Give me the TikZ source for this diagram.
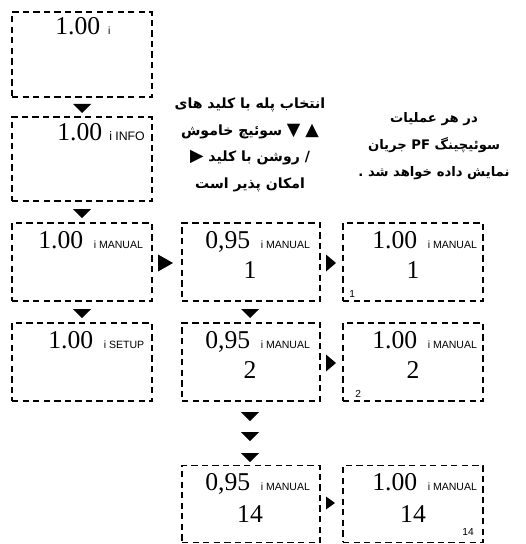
\documentclass[tikz,border=0pt]{standalone}
\usepackage{fontspec}
\setmainfont{Liberation Serif}
\newfontfamily\tagfont{Liberation Sans}
\newfontfamily\farsifont[Script=Arabic]{DejaVu Sans}
\TeXXeTstate=1
\usetikzlibrary{positioning}

\tikzset{
  dispbox/.style={draw, line width=0.8pt, dash pattern=on 3.6pt off 2.4pt,
                  minimum width=2.8cm, inner sep=0pt},
  bignum/.style={font=\fontsize{14.6}{16}\selectfont, inner sep=0pt},
  cornernum/.style={font=\tagfont\fontsize{5.8}{7}\selectfont, inner sep=0pt},
  note/.style={font=\farsifont\bfseries\fontsize{8}{15.2}\selectfont,
               align=center, inner sep=0pt},
  downtri/.pic={\fill (-9,0) -- (9,0) -- (0,9) -- cycle;},
  righttri/.pic={\fill (0,-8.5) -- (0,8.5) -- (15,0) -- cycle;},
  midtri/.pic={\fill (0,-8.5) -- (0,8.5) -- (10,0) -- cycle;},
  smalltri/.pic={\fill (0,-6.5) -- (0,6.5) -- (9,0) -- cycle;}
}
\newcommand{\tagtxt}[2][6pt]{\hspace{#1}{\tagfont\fontsize{6}{7}\selectfont #2}}
\newcommand{\keysym}[1]{{\fontsize{10}{10}\selectfont #1}}

\begin{document}
\begin{tikzpicture}[x=0.02cm,y=-0.02cm]
  \useasboundingbox (0,0) rectangle (525,544);

  % display boxes
  \node[dispbox, minimum height=1.7cm]  (b11) at (82,54.5)  {};
  \node[dispbox, minimum height=1.68cm] (b21) at (82,159)   {};
  \node[dispbox, minimum height=1.56cm] (b31) at (82,262)   {};
  \node[dispbox, minimum height=1.56cm] (b41) at (82,362)   {};
  \node[dispbox, minimum height=1.56cm, minimum width=2.76cm] (b32) at (251,262) {};
  \node[dispbox, minimum height=1.56cm, minimum width=2.76cm] (b42) at (251,362) {};
  \node[dispbox, minimum height=1.54cm, minimum width=2.76cm] (b52) at (251,504) {};
  \node[dispbox, minimum height=1.56cm] (b33) at (413,262)  {};
  \node[dispbox, minimum height=1.56cm] (b43) at (413,362)  {};
  \node[dispbox, minimum height=1.54cm] (b53) at (413,504)  {};

  % readings
  \node[bignum, anchor=base west] (v11) at (55,35)   {1.00\tagtxt[4.5pt]{i}};
  \node[bignum, anchor=base west] (v21) at (57,140)  {1.00\tagtxt[4pt]{\fontsize{7}{8}\selectfont i INFO}};
  \node[bignum, anchor=base west] (v31) at (38,248)  {1.00\tagtxt{i MANUAL}};
  \node[bignum, anchor=base west] (v41) at (48,348)  {1.00\tagtxt{i SETUP}};
  \node[bignum, anchor=base west] (v32) at (205,248) {0,95\tagtxt{i MANUAL}};
  \node[bignum, anchor=base west] (v42) at (205,348) {0,95\tagtxt{i MANUAL}};
  \node[bignum, anchor=base west] (v52) at (205,490) {0,95\tagtxt{i MANUAL}};
  \node[bignum, anchor=base west] (v33) at (372,248) {1.00\tagtxt{i MANUAL}};
  \node[bignum, anchor=base west] (v43) at (372,348) {1.00\tagtxt{i MANUAL}};
  \node[bignum, anchor=base west] (v53) at (372,490) {1.00\tagtxt{i MANUAL}};

  % step numbers
  \node[bignum, anchor=base] (s32) at (250,278) {1};
  \node[bignum, anchor=base] (s42) at (250,378) {2};
  \node[bignum, anchor=base] (s52) at (250,522) {14};
  \node[bignum, anchor=base] (s33) at (413,278) {1};
  \node[bignum, anchor=base] (s43) at (413,378) {2};
  \node[bignum, anchor=base] (s53) at (413,522) {14};
  \node[cornernum, anchor=base west] (c33) at (349,297) {1};
  \node[cornernum, anchor=base west] (c43) at (355,397) {2};
  \node[cornernum, anchor=base west] (c53) at (462,535) {14};

  % arrows between the boxes
  \pic at (82,104)  {downtri};
  \pic at (82,209)  {downtri};
  \pic at (82,309)  {downtri};
  \pic at (250,309) {downtri};
  \pic at (250,412) {downtri};
  \pic at (250,432) {downtri};
  \pic at (250,453) {downtri};
  \pic at (158,263) {righttri};
  \pic at (326,263) {midtri};
  \pic at (326,363) {midtri};
  \pic at (326,503) {smalltri};

  % notes
  \node[note] (n1) at (250,145) {%
    \beginR انتخاب پله با کلید های\endR\\
    \beginR \keysym{▲} \keysym{▼} سوئیچ خاموش\endR\\
    \beginR / روشن با کلید \keysym{▶}\endR\\
    \beginR امکان پذیر است\endR};
  \node[note, font=\farsifont\bfseries\fontsize{7.5}{15.4}\selectfont] (n2) at (434,146) {%
    \beginR در هر عملیات\endR\\
    \beginR سوئیچینگ \beginL PF\endL{} جریان\endR\\
    \beginR نمایش داده خواهد شد .\endR};
\end{tikzpicture}
\end{document}
